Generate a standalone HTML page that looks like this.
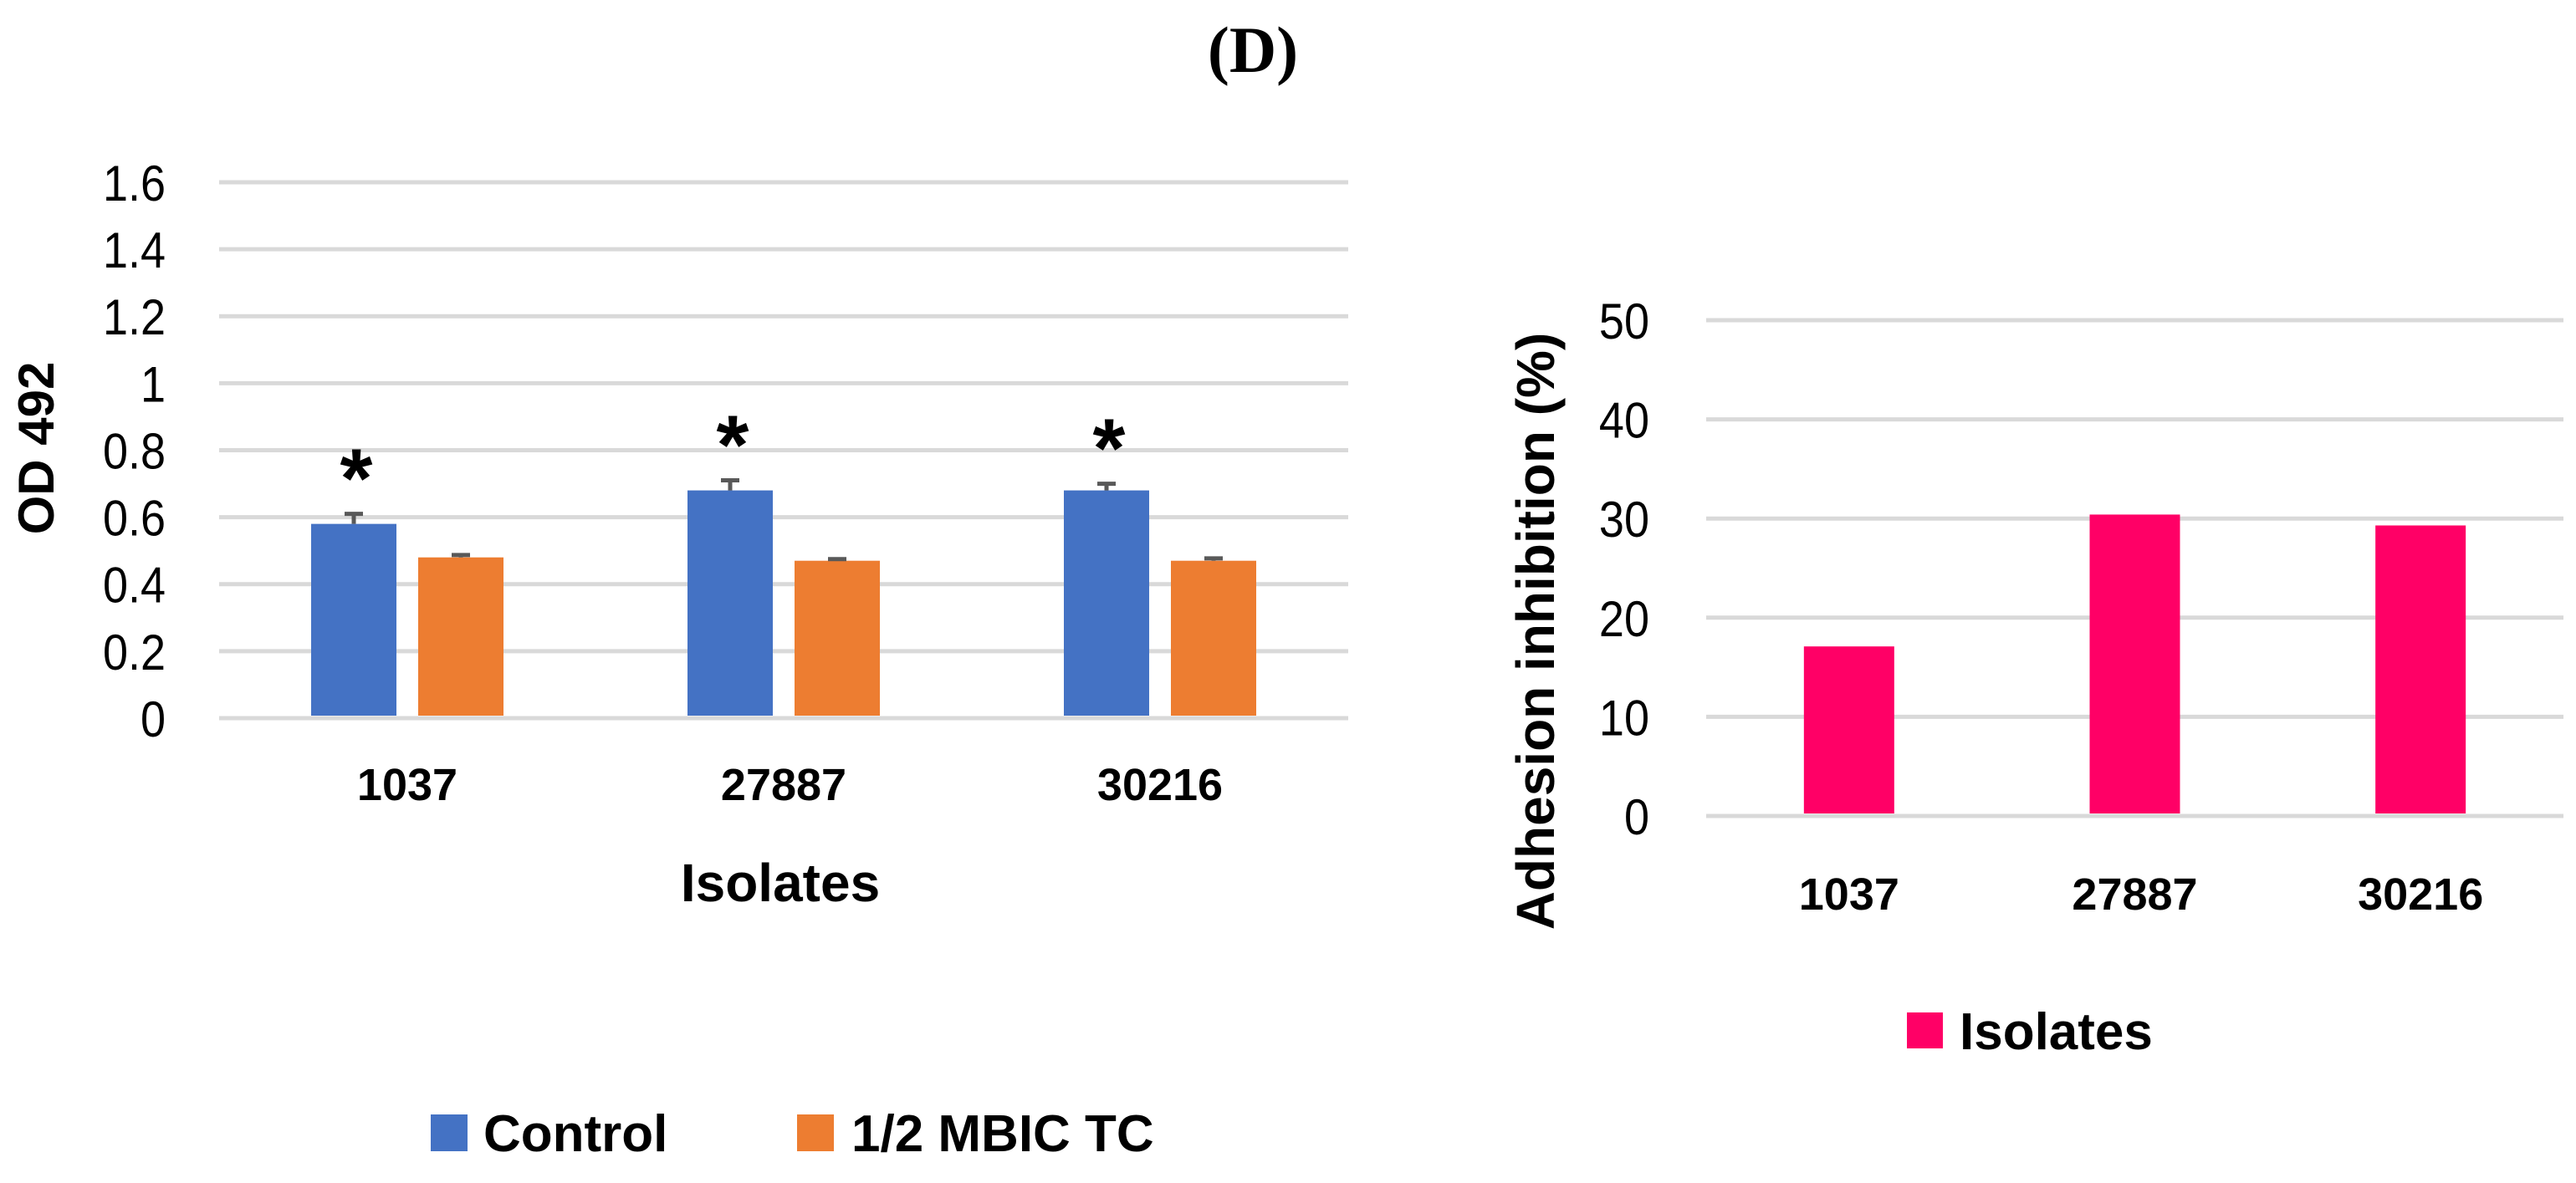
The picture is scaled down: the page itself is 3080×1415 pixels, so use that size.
<!DOCTYPE html>
<html><head><meta charset="utf-8"><style>
body{margin:0;background:#fff;}
svg{display:block;font-family:"Liberation Sans",sans-serif;}
</style></head><body>
<svg id="c" width="3080" height="1415" viewBox="0 0 3080 1415" xmlns="http://www.w3.org/2000/svg">
<text x="1498" y="86" text-anchor="middle" font-family="Liberation Serif,serif" font-weight="bold" font-size="78">(D)</text>
<g id="left"></g>
<g id="right"></g>
</svg>
<script>
const categories = ["1037","27887","30216"];
const controlValues = [0.58,0.68,0.68];
const controlErr = [0.03,0.03,0.02];
const mbicValues = [0.48,0.47,0.47];
const mbicErr = [0.007,0.005,0.007];
const leftTicks = ["0","0.2","0.4","0.6","0.8","1","1.2","1.4","1.6"];
const inhibitionValues = [17.1,30.4,29.3];
const rightTicks = ["0","10","20","30","40","50"];

const NS="http://www.w3.org/2000/svg";
function mk(parent,tag,attrs,txt){const e=document.createElementNS(NS,tag);for(const k in attrs)e.setAttribute(k,attrs[k]);if(txt!==undefined)e.textContent=txt;parent.appendChild(e);return e;}

// Left chart
const L=document.getElementById('left');
const lx0=262,lx1=1612,ly0=859,ly1=218,lmax=1.6;
const ly=v=>ly0-(v/lmax)*(ly0-ly1);
const lcw=(lx1-lx0)/categories.length;
leftTicks.forEach((t,i)=>{
  const v=parseFloat(t);
  const g=mk(L,'line',{x1:lx0,x2:lx1,y1:ly(v),y2:ly(v),stroke:'#d9d9d9','stroke-width':5});
  
  
  const tx=mk(L,'text',{x:198,y:ly(v)+22,'text-anchor':'end','font-size':60,transform:`translate(198,0) scale(0.9,1) translate(-198,0)`},t);
  
  
});
categories.forEach((c,i)=>{
  const cx=lx0+lcw*(i+0.5);
  const bw=102,gap=26;
  const bx=cx-gap/2-bw, ox=cx+gap/2;
  const b=mk(L,'rect',{x:bx,y:ly(controlValues[i]),width:bw,height:ly0-ly(controlValues[i])-3,fill:'#4472c4'});
  
  
  const o=mk(L,'rect',{x:ox,y:ly(mbicValues[i]),width:bw,height:ly0-ly(mbicValues[i])-3,fill:'#ed7d31'});
  
  
  [[bx,controlValues[i],controlErr[i]],[ox,mbicValues[i],mbicErr[i]]].forEach(([x,v,e])=>{
    const ex=x+bw/2;
    const l=mk(L,'path',{d:`M${ex},${ly(v)} V${ly(v+e)} M${ex-11},${ly(v+e)} H${ex+11}`,stroke:'#595959','stroke-width':5,fill:'none'});
    
    
  });
  const s=mk(L,'text',{x:bx+bw/2+3,y:ly(controlValues[i]+controlErr[i])-8,'text-anchor':'middle','font-size':100,'font-weight':'bold',transform:''},'*');
  
  
  const xl=mk(L,'text',{x:cx,y:957,'text-anchor':'middle','font-size':54,'font-weight':'bold'},c);
  
  
});
const lyt=mk(L,'text',{x:0,y:0,transform:'translate(64,536) rotate(-90)','text-anchor':'middle','font-size':60,'font-weight':'bold'},'OD 492');


const lxt=mk(L,'text',{x:933,y:1078,'text-anchor':'middle','font-size':64,'font-weight':'bold'},'Isolates');


const lg1=mk(L,'rect',{x:515,y:1333,width:44,height:44,fill:'#4472c4'});


const lt1=mk(L,'text',{x:578,y:1377,'font-size':62,'font-weight':'bold'},'Control');


const lg2=mk(L,'rect',{x:953,y:1333,width:44,height:44,fill:'#ed7d31'});


const lt2=mk(L,'text',{x:1018,y:1377,'font-size':62,'font-weight':'bold'},'1/2 MBIC TC');



// Right chart
const R=document.getElementById('right');
const rx0=2040,rx1=3065,ry0=976,ry1=383,rmax=50;
const ry=v=>ry0-(v/rmax)*(ry0-ry1);
const rcw=(rx1-rx0)/categories.length;
rightTicks.forEach(t=>{
  const v=parseFloat(t);
  const g=mk(R,'line',{x1:rx0,x2:rx1,y1:ry(v),y2:ry(v),stroke:'#d9d9d9','stroke-width':5});
  
  
  const tx=mk(R,'text',{x:1972,y:ry(v)+22,'text-anchor':'end','font-size':60,transform:`translate(1972,0) scale(0.9,1) translate(-1972,0)`},t);
  
  
});
categories.forEach((c,i)=>{
  const cx=rx0+rcw*(i+0.5);
  const bw=108;
  const b=mk(R,'rect',{x:cx-bw/2,y:ry(inhibitionValues[i]),width:bw,height:ry0-ry(inhibitionValues[i])-3,fill:'#ff0066'});
  
  
  const xl=mk(R,'text',{x:cx,y:1088,'text-anchor':'middle','font-size':54,'font-weight':'bold'},c);
  
  
});
const ryt=mk(R,'text',{x:0,y:0,transform:'translate(1858,755) rotate(-90)','text-anchor':'middle','font-size':64,'font-weight':'bold'},'Adhesion inhibition (%)');


const rg=mk(R,'rect',{x:2280,y:1211,width:43,height:43,fill:'#ff0066'});


const rt=mk(R,'text',{x:2343,y:1255,'font-size':62,'font-weight':'bold'},'Isolates');


</script>
</body></html>
